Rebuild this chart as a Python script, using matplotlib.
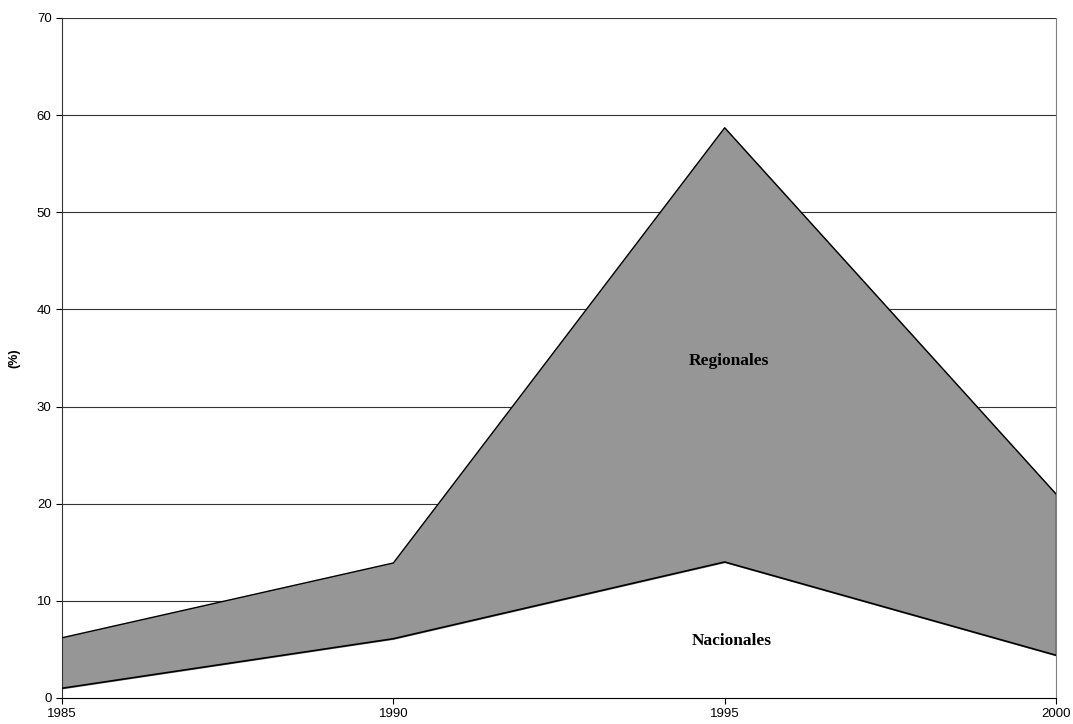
import matplotlib
matplotlib.use('Agg')
import matplotlib.pyplot as plt

years = [1985, 1990, 1995, 2000]
nacionales = [1.0, 6.1, 14.0, 4.4]
regionales = [5.2, 7.8, 44.7, 16.6]
total = [n + r for n, r in zip(nacionales, regionales)]

fig = plt.figure(figsize=(10.73, 7.24), dpi=100)
ax = fig.add_axes([62 / 1073, 1 - 698 / 724, (1056 - 62) / 1073, (698 - 18) / 724])

ax.set_axisbelow(True)
ax.grid(axis='y', color='#333333', linewidth=0.8)
ax.fill_between(years, 0, nacionales, color='white', zorder=2)
ax.fill_between(years, nacionales, total, color='#969696', zorder=2)
ax.plot(years, nacionales, color='black', linewidth=1.2, zorder=3)
ax.plot(years, total, color='black', linewidth=1.0, zorder=3)
ax.vlines(years[-1], nacionales[-1], total[-1], color='black', linewidth=1.0, zorder=3)

ax.set_xlim(1985, 2000)
ax.set_ylim(0, 70)
ax.set_xticks(years)
ax.set_yticks(range(0, 71, 10))
ax.tick_params(labelsize=9.5, length=4, width=0.8, color='black')
ax.tick_params(axis='x', pad=3)
for lab in ax.get_xticklabels() + ax.get_yticklabels():
    lab.set_family('Liberation Sans')

ax.spines['top'].set_visible(False)
ax.spines['right'].set_color('#808080')
ax.spines['left'].set_color('#333333')
ax.spines['bottom'].set_color('black')

ax.set_ylabel('(%)', fontsize=9, fontweight='bold', family='Liberation Sans', labelpad=12)

ax.text(1995.07, 34.7, 'Regionales', ha='center', va='center', fontsize=12.5,
        fontweight='bold', family='Liberation Serif')
ax.text(1995.1, 5.9, 'Nacionales', ha='center', va='center', fontsize=12.5,
        fontweight='bold', family='Liberation Serif')

fig.savefig('out.png', dpi=100)
